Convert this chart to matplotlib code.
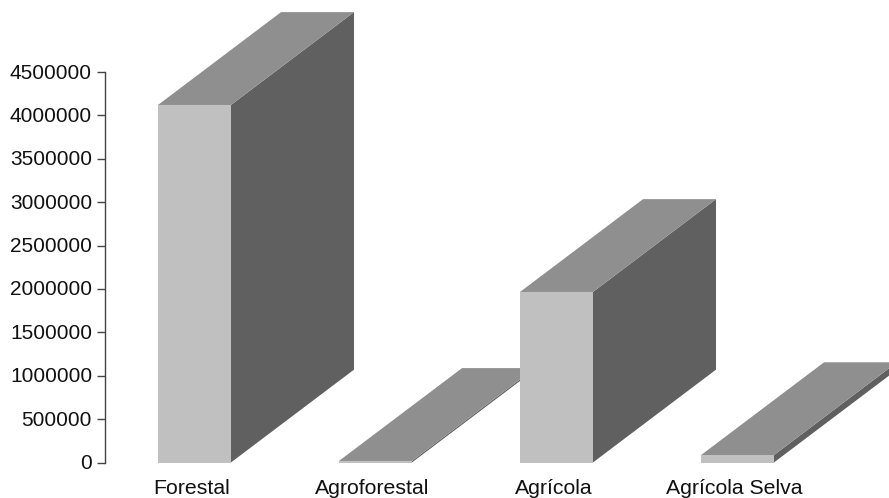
import matplotlib
matplotlib.use("Agg")
import matplotlib.pyplot as plt
from matplotlib.patches import Polygon
from matplotlib.transforms import ScaledTranslation

categories = ["Forestal", "Agroforestal", "Agrícola", "Agrícola Selva"]
values = [4120000, 18000, 1965000, 85000]
yticks = [0, 500000, 1000000, 1500000, 2000000, 2500000, 3000000, 3500000, 4000000, 4500000]

FRONT = "#c0c0c0"
TOP = "#8f8f8f"
SIDE = "#606060"
AXIS = "#444444"
BAR_W = 0.403
DEPTH_X = 0.68
DEPTH_Y = 1070000
LABEL_SHIFT_PX = -3  # labels sit a bit left of the bars

plt.rcParams['font.family'] = ['Liberation Sans', 'DejaVu Sans']

W, H = 889, 498
fig = plt.figure(figsize=(W / 100, H / 100), dpi=100)
ax = fig.add_axes([104.5 / W, (H - 462.5) / H, 724 / W, 390.5 / H])
ax.set_xlim(-0.497, 3.503)
ax.set_ylim(0, 4500000)

for i, v in enumerate(values):
    x0 = i - BAR_W / 2
    x1 = i + BAR_W / 2
    z = i * 2
    front = [(x0, 0), (x1, 0), (x1, v), (x0, v)]
    top = [(x0, v), (x1, v), (x1 + DEPTH_X, v + DEPTH_Y), (x0 + DEPTH_X, v + DEPTH_Y)]
    side = [(x1, 0), (x1 + DEPTH_X, DEPTH_Y), (x1 + DEPTH_X, v + DEPTH_Y), (x1, v)]
    ax.add_patch(Polygon(side, fc=SIDE, ec="none", clip_on=False, zorder=z + 2))
    ax.add_patch(Polygon(top, fc=TOP, ec="none", clip_on=False, zorder=z + 2))
    ax.add_patch(Polygon(front, fc=FRONT, ec="none", clip_on=False, zorder=z + 3))

for s in ["top", "right", "bottom"]:
    ax.spines[s].set_visible(False)
ax.spines["left"].set_color(AXIS)
ax.spines["left"].set_linewidth(1.0)

ax.set_yticks(yticks)
ax.set_yticklabels([str(t) for t in yticks], fontsize=15)
ax.tick_params(axis="y", length=5.5, width=1.0, pad=3.5, color=AXIS, labelcolor="#111111")
ax.set_xticks(range(len(categories)))
ax.set_xticklabels(categories, fontsize=15.3, color="#111111")
ax.tick_params(axis="x", length=0, pad=12)

for lab in ax.get_xticklabels():
    lab.set_transform(lab.get_transform() + ScaledTranslation(LABEL_SHIFT_PX / 100, 0, fig.dpi_scale_trans))
for lab in ax.get_yticklabels():
    lab.set_transform(lab.get_transform() + ScaledTranslation(0, 1 / 100, fig.dpi_scale_trans))

fig.savefig("out.png", dpi=100)
